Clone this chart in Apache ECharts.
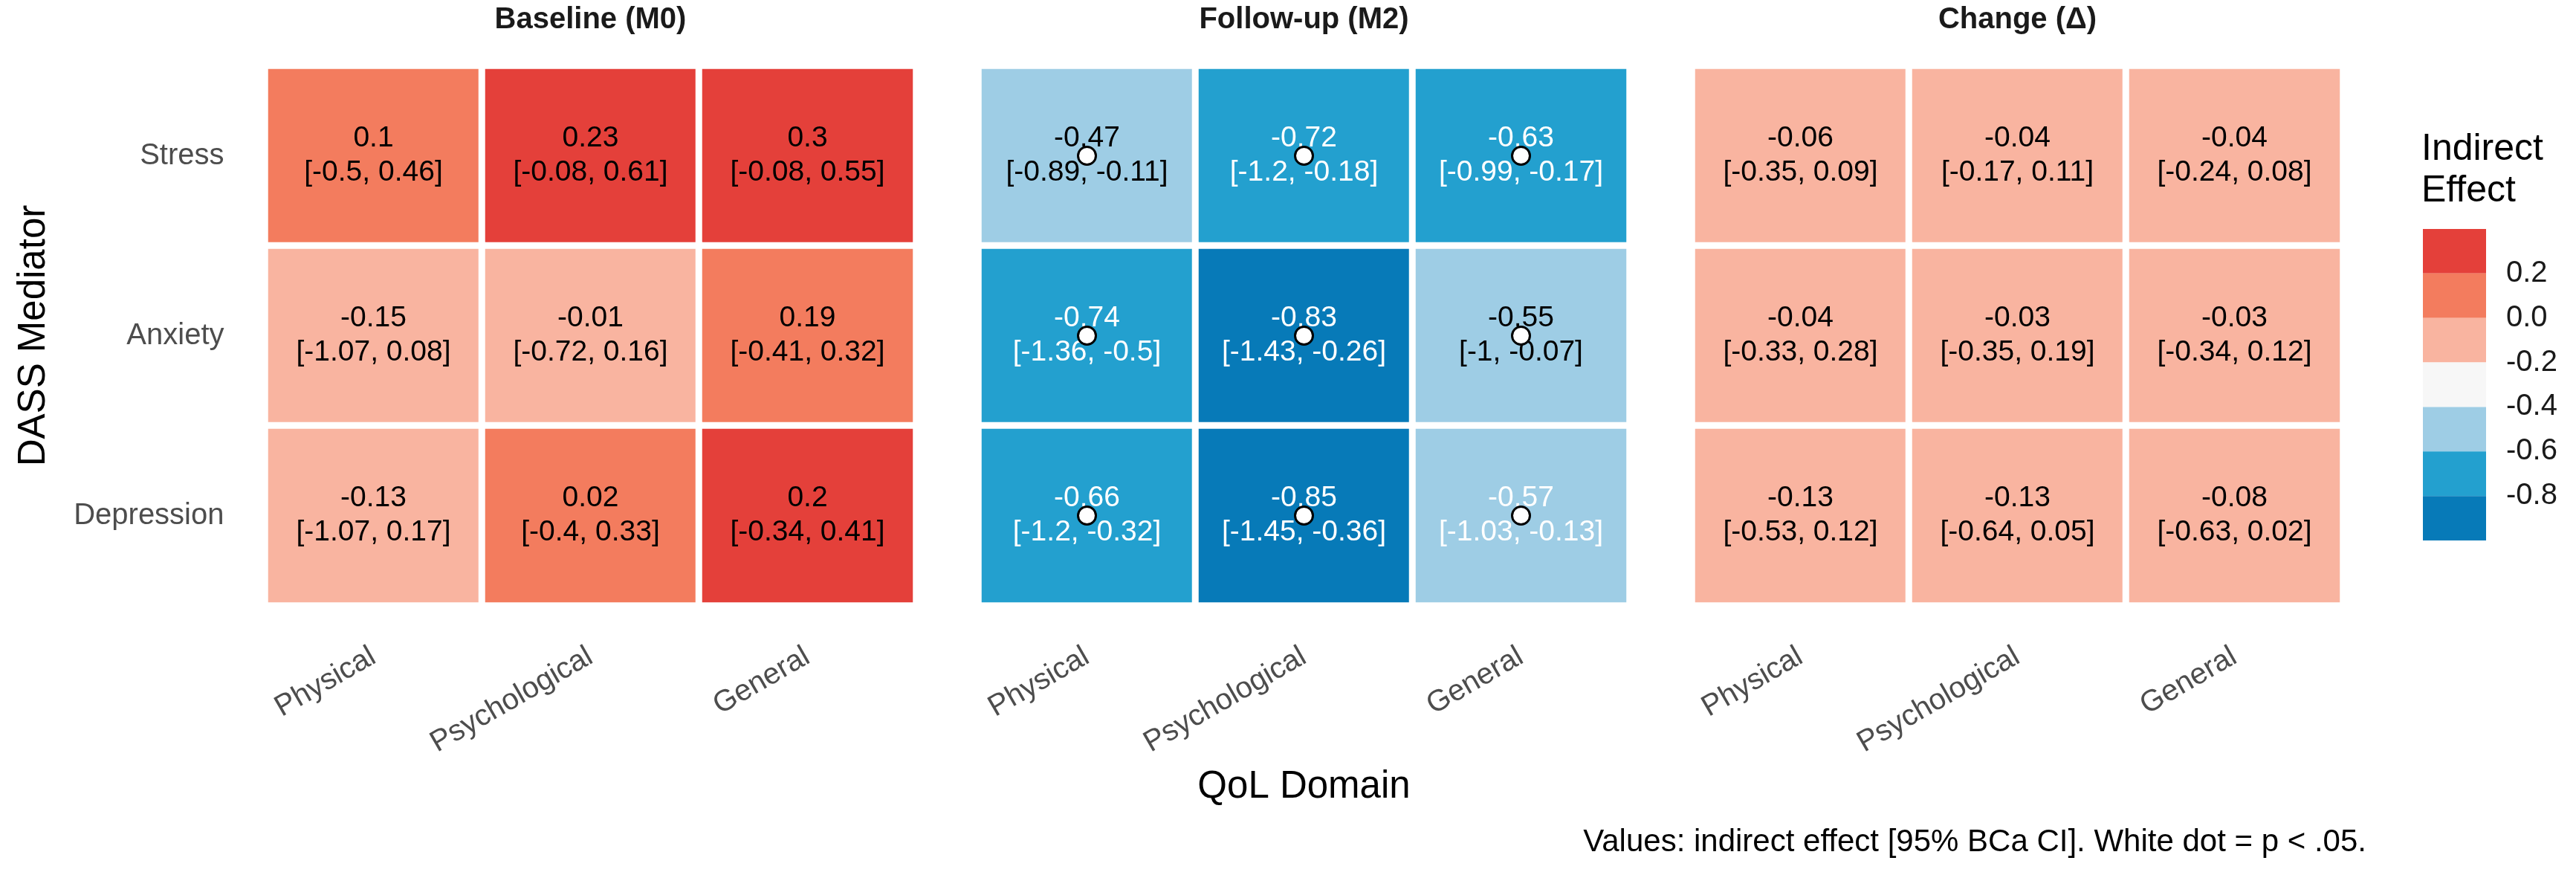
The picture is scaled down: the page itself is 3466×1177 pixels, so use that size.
<!DOCTYPE html>
<html><head><meta charset="utf-8">
<script src="https://cdn.jsdelivr.net/npm/echarts@6/dist/echarts.min.js"></script>
<style>html,body{margin:0;padding:0;background:#fff}#c{width:3466px;height:1177px}</style>
</head><body><div id="c"></div>
<script>
// ---------- data ----------
const domains = ['Physical', 'Psychological', 'General'];
const mediators = ['Stress', 'Anxiety', 'Depression'];
const panelTitles = ['Baseline (M0)', 'Follow-up (M2)', 'Change (Δ)'];

// rows: Stress, Anxiety, Depression ; cols: Physical, Psychological, General
const baselineEst = [[0.1, 0.23, 0.3], [-0.15, -0.01, 0.19], [-0.13, 0.02, 0.2]];
const baselineLo  = [[-0.5, -0.08, -0.08], [-1.07, -0.72, -0.41], [-1.07, -0.4, -0.34]];
const baselineHi  = [[0.46, 0.61, 0.55], [0.08, 0.16, 0.32], [0.17, 0.33, 0.41]];
const baselineSig = [[0, 0, 0], [0, 0, 0], [0, 0, 0]];

const followEst = [[-0.47, -0.72, -0.63], [-0.74, -0.83, -0.55], [-0.66, -0.85, -0.57]];
const followLo  = [[-0.89, -1.2, -0.99], [-1.36, -1.43, -1], [-1.2, -1.45, -1.03]];
const followHi  = [[-0.11, -0.18, -0.17], [-0.5, -0.26, -0.07], [-0.32, -0.36, -0.13]];
const followSig = [[1, 1, 1], [1, 1, 1], [1, 1, 1]];

const changeEst = [[-0.06, -0.04, -0.04], [-0.04, -0.03, -0.03], [-0.13, -0.13, -0.08]];
const changeLo  = [[-0.35, -0.17, -0.24], [-0.33, -0.35, -0.34], [-0.53, -0.64, -0.63]];
const changeHi  = [[0.09, 0.11, 0.08], [0.28, 0.19, 0.12], [0.12, 0.05, 0.02]];
const changeSig = [[0, 0, 0], [0, 0, 0], [0, 0, 0]];

// colour bins (top to bottom) and their break values
const legendBreaks = [0.4, 0.2, 0, -0.2, -0.4, -0.6, -0.8, -1.0];
const binColors = ['#E4403A', '#F37C5E', '#F9B4A0', '#F7F7F7', '#9ECDE5', '#23A0CF', '#077AB8'];
const legendTitle = 'Indirect\nEffect';
const xTitle = 'QoL Domain';
const yTitle = 'DASS Mediator';
const caption = 'Values: indirect effect [95% BCa CI]. White dot = p < .05.';

// ---------- layout ----------
const FONT = "'Liberation Sans', Arial, sans-serif";
const panels = [
  {est: baselineEst, lo: baselineLo, hi: baselineHi, sig: baselineSig},
  {est: followEst, lo: followLo, hi: followHi, sig: followSig},
  {est: changeEst, lo: changeLo, hi: changeHi, sig: changeSig}
];
const gridLefts = [356.5, 1316.5, 2276.5];
const gridTop = 88.5, gridW = 876, gridH = 726;

const grids = [], xAxes = [], yAxes = [], series = [];
panels.forEach((p, i) => {
  grids.push({left: gridLefts[i], top: gridTop, width: gridW, height: gridH, containLabel: false});
  xAxes.push({
    type: 'category', gridIndex: i, data: domains,
    axisLine: {show: false}, axisTick: {show: false}, splitLine: {show: false},
    axisLabel: {rotate: 30, margin: 66, fontSize: 40, color: '#4D4D4D', fontFamily: FONT, interval: 0}
  });
  yAxes.push({
    type: 'category', gridIndex: i, data: mediators, inverse: true,
    axisLine: {show: false}, axisTick: {show: false}, splitLine: {show: false},
    axisLabel: {show: i === 0, margin: 55, fontSize: 40, color: '#4D4D4D', fontFamily: FONT}
  });
  const data = [];
  const dots = [];
  for (let r = 0; r < mediators.length; r++) {
    for (let c = 0; c < domains.length; c++) {
      const v = p.est[r][c];
      data.push({
        value: [c, r, v],
        label: {color: v < -0.56 ? '#FFFFFF' : '#000000'}
      });
      if (p.sig[r][c]) dots.push([c, r]);
    }
  }
  series.push({
    type: 'heatmap', xAxisIndex: i, yAxisIndex: i, data: data, z: 2,
    itemStyle: {borderColor: '#FFFFFF', borderWidth: 9},
    label: {
      show: true, fontSize: 39, lineHeight: 46, fontFamily: FONT,
      formatter: (prm) => {
        const c = prm.value[0], r = prm.value[1];
        return String(p.est[r][c]) + '\n[' + String(p.lo[r][c]) + ', ' + String(p.hi[r][c]) + ']';
      }
    },
    emphasis: {disabled: true}
  });
  series.push({
    type: 'scatter', xAxisIndex: i, yAxisIndex: i, data: dots, z: 6,
    symbol: 'circle', symbolSize: 24,
    itemStyle: {color: '#FFFFFF', borderColor: '#000000', borderWidth: 3, opacity: 1},
    emphasis: {disabled: true}
  });
});

// legend colour bar as its own grid
grids.push({left: 3260, top: 308, width: 85, height: 419});
xAxes.push({type: 'value', gridIndex: 3, min: 0, max: 1, show: false});
yAxes.push({
  type: 'value', gridIndex: 3, position: 'right',
  min: legendBreaks[legendBreaks.length - 1], max: legendBreaks[0], interval: 0.2,
  axisLine: {show: false}, axisTick: {show: false}, splitLine: {show: false},
  axisLabel: {
    showMinLabel: false, showMaxLabel: false, margin: 27,
    fontSize: 40, color: '#1A1A1A', fontFamily: FONT,
    formatter: (v) => (Math.abs(v) < 1e-9 ? '0.0' : v.toFixed(1))
  }
});
const bandData = binColors.map((col, k) => [legendBreaks[k + 1], legendBreaks[k], k]);
series.push({
  type: 'custom', xAxisIndex: 3, yAxisIndex: 3, data: bandData, silent: true,
  renderItem: (params, api) => {
    const lo = api.value(0), hi = api.value(1);
    const a = api.coord([0, hi]);
    const b = api.coord([1, lo]);
    return {type: 'rect', shape: {x: a[0], y: a[1], width: b[0] - a[0], height: b[1] - a[1]},
            style: {fill: binColors[api.value(2)]}};
  }
});

const pieces = binColors.map((col, k) => {
  const pc = {color: col};
  if (k < binColors.length - 1) pc.gte = legendBreaks[k + 1];
  if (k > 0) pc.lt = legendBreaks[k];
  return pc;
});

const graphics = [];
panelTitles.forEach((t, i) => {
  graphics.push({type: 'text', x: gridLefts[i] + gridW / 2, y: 27,
    style: {text: t, font: 'bold 40px ' + FONT, fill: '#1A1A1A', align: 'center', verticalAlign: 'middle'}});
});
graphics.push({type: 'text', x: 46, y: gridTop + gridH / 2, rotation: Math.PI / 2,
  style: {text: yTitle, font: '51px ' + FONT, fill: '#000', align: 'center', verticalAlign: 'middle'}});
graphics.push({type: 'text', x: (gridLefts[0] + gridLefts[2] + gridW) / 2, y: 1059,
  style: {text: xTitle, font: '51px ' + FONT, fill: '#000', align: 'center', verticalAlign: 'middle'}});
graphics.push({type: 'text', x: 3184, y: 1133,
  style: {text: caption, font: '42px ' + FONT, fill: '#000', align: 'right', verticalAlign: 'middle'}});
graphics.push({type: 'text', x: 3258, y: 229,
  style: {text: legendTitle, font: '50px ' + FONT, lineHeight: 56, fill: '#000', align: 'left', verticalAlign: 'middle'}});

const chart = echarts.init(document.getElementById('c'), null, {renderer: 'canvas'});
chart.setOption({
  animation: false,
  backgroundColor: '#FFFFFF',
  textStyle: {fontFamily: FONT},
  grid: grids, xAxis: xAxes, yAxis: yAxes,
  visualMap: {type: 'piecewise', show: false, seriesIndex: [0, 2, 4], dimension: 2, pieces: pieces},
  series: series,
  graphic: graphics
});
</script></body></html>
